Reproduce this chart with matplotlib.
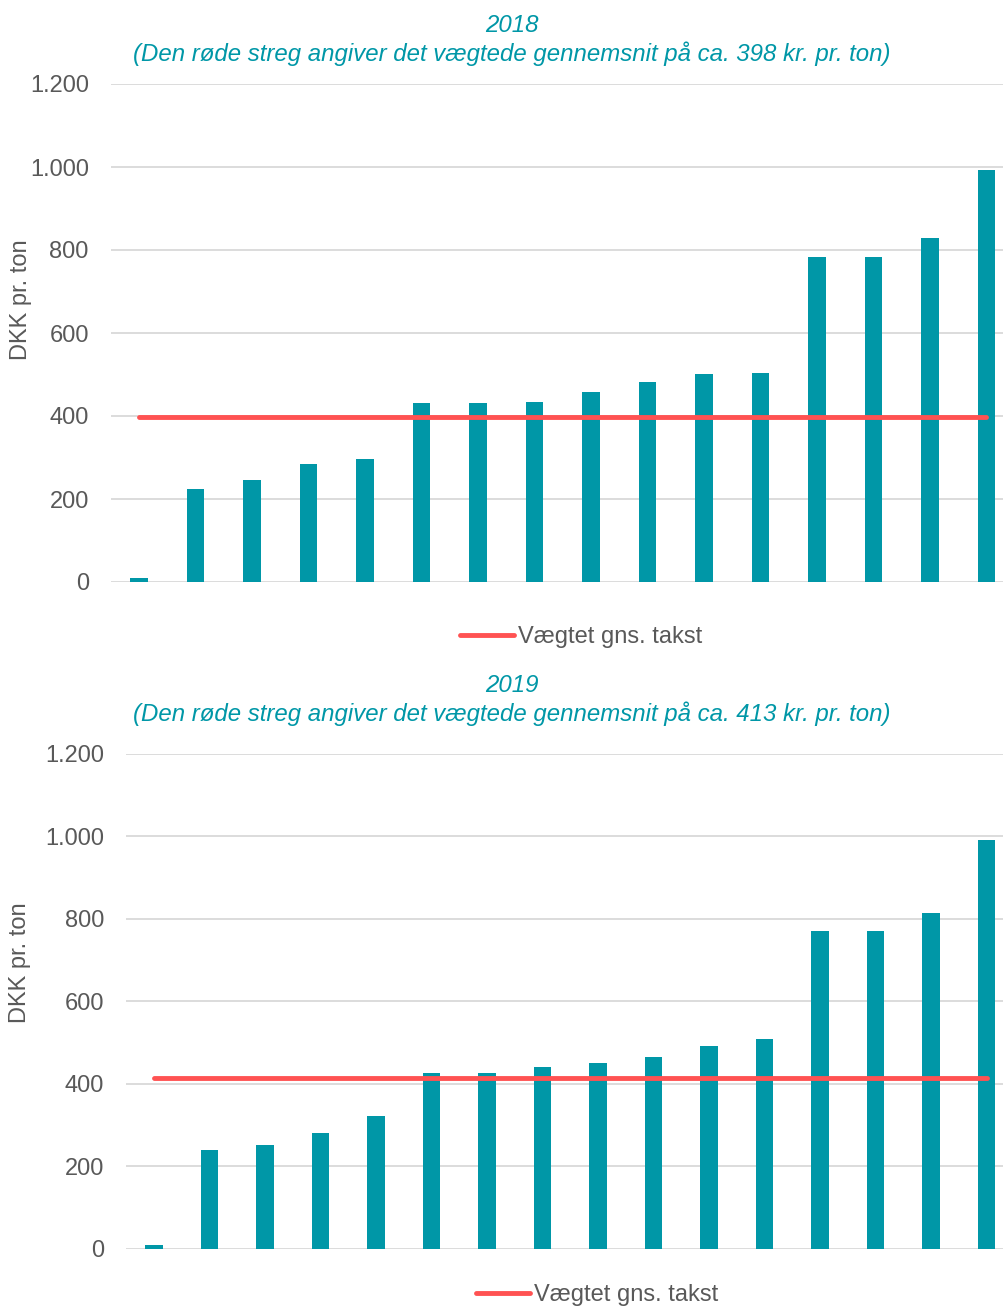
import matplotlib.pyplot as plt

plt.rcParams['font.family'] = ['Liberation Sans', 'DejaVu Sans']

# tariff per site, sorted ascending (DKK pr. ton)
takst_2018 = [10, 223, 246, 284, 297, 431, 431, 434, 457, 481, 501, 504, 782, 782, 830, 992]
takst_2019 = [10, 240, 251, 280, 322, 425, 425, 440, 449, 464, 492, 508, 769, 769, 815, 991]
gns_2018 = 398
gns_2019 = 413
yticks = [0, 200, 400, 600, 800, 1000, 1200]
ytick_labels = ["0", "200", "400", "600", "800", "1.000", "1.200"]

TEAL = "#0097A7"
RED = "#FF5252"
GREY = "#595959"
W, H = 1004, 1306

fig = plt.figure(figsize=(W / 100, H / 100), dpi=100)


def px_axes(left, top, right, bottom):
    return fig.add_axes([left / W, 1 - bottom / H, (right - left) / W, (bottom - top) / H])


def draw(ax, vals, gns):
    x = list(range(len(vals)))
    ax.bar(x, vals, width=0.31, color=TEAL, zorder=2)
    ax.plot([x[0], x[-1]], [gns, gns], color=RED, lw=3.5, solid_capstyle="round",
            zorder=3, label="Vægtet gns. takst")
    ax.set_xlim(-0.5, len(vals) - 0.5)
    ax.set_ylim(0, 1200)
    ax.set_yticks(yticks)
    ax.set_yticklabels(ytick_labels)
    ax.tick_params(axis="y", length=0, pad=16, labelsize=17, labelcolor=GREY)
    ax.set_xticks([])
    ax.grid(axis="y", color="#D9D9D9", lw=1.3, zorder=0)
    for s in ax.spines.values():
        s.set_visible(False)
    ax.set_axisbelow(True)


ax1 = px_axes(111, 84, 1014.5, 582)
draw(ax1, takst_2018, gns_2018)
ax2 = px_axes(126.3, 753.7, 1014.3, 1248.7)
draw(ax2, takst_2019, gns_2019)

# titles
fig.text(512 / W, 1 - 26 / H, "2018", ha="center", va="center", color=TEAL,
         style="italic", fontsize=17.3)
fig.text(512 / W, 1 - 54 / H, "(Den røde streg angiver det vægtede gennemsnit på ca. 398 kr. pr. ton)",
         ha="center", va="center", color=TEAL, style="italic", fontsize=17.3)
fig.text(512 / W, 1 - 686 / H, "2019", ha="center", va="center", color=TEAL,
         style="italic", fontsize=17.3)
fig.text(512 / W, 1 - 714 / H, "(Den røde streg angiver det vægtede gennemsnit på ca. 413 kr. pr. ton)",
         ha="center", va="center", color=TEAL, style="italic", fontsize=17.3)

# y labels
fig.text(21 / W, 1 - 300 / H, "DKK pr. ton", rotation=90, ha="center", va="center",
         color=GREY, fontsize=17)
fig.text(20 / W, 1 - 963 / H, "DKK pr. ton", rotation=90, ha="center", va="center",
         color=GREY, fontsize=17)

# legends
for ax, cx, cy in [(ax1, 581, 637), (ax2, 597, 1295)]:
    leg = ax.legend(loc="center", bbox_to_anchor=(cx / W, 1 - cy / H),
                    bbox_transform=fig.transFigure, frameon=False, fontsize=17,
                    handlelength=2.3, handletextpad=0.15, borderpad=0, borderaxespad=0)
    for t in leg.get_texts():
        t.set_color(GREY)

fig.savefig("out.png", dpi=100)
